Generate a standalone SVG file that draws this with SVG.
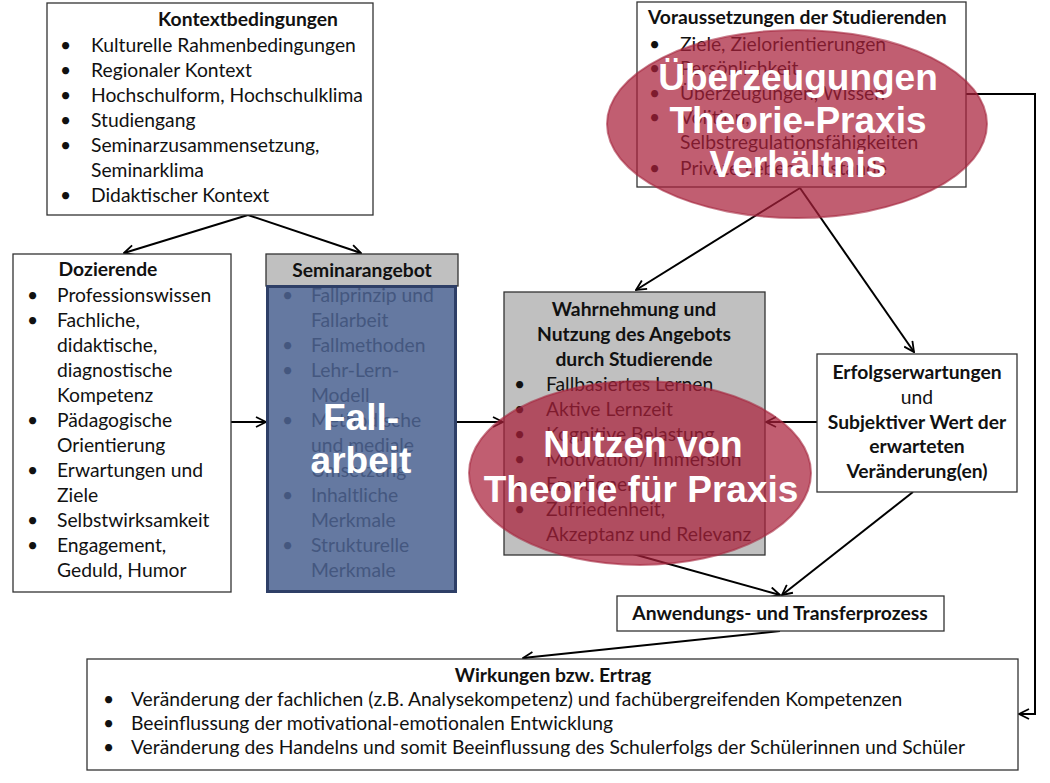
<svg xmlns="http://www.w3.org/2000/svg" width="1050" height="783" viewBox="0 0 1050 783">
<style>
.box{fill:#fff;stroke:#333;stroke-width:1.3}
.gray{fill:#c0c0c0;stroke:#333;stroke-width:1.3}
.t{font-family:Lato,"Liberation Sans",sans-serif;font-size:19.3px;fill:#111}
.b{font-weight:bold}
.c{text-anchor:middle}
.sem{fill:#44577f}
.big{font-family:"Liberation Sans",Arial,sans-serif;font-weight:bold;font-size:37px;fill:#fff;text-anchor:middle}
.ell{fill:#a9203a;fill-opacity:0.72;stroke:#a52840;stroke-width:2;stroke-opacity:0.6}
.ln{fill:none;stroke:#000;stroke-width:2}
</style>
<defs>
<marker id="ah" viewBox="0 0 12 12" refX="11" refY="6" markerWidth="12" markerHeight="12" markerUnits="userSpaceOnUse" orient="auto">
<path d="M1,1 L11,6 L1,11" fill="none" stroke="#000" stroke-width="1.8"/>
</marker>
</defs>

<g id="connectors">
<path class="ln" d="M248,215 L124,253" marker-end="url(#ah)"/>
<path class="ln" d="M248,215 L361,253" marker-end="url(#ah)"/>
<path class="ln" d="M231,422 L266,422" marker-end="url(#ah)"/>
<path class="ln" d="M456,422 L503,422" marker-end="url(#ah)"/>
<path class="ln" d="M817,422 L766,422" marker-end="url(#ah)"/>
<path class="ln" d="M800,188 L636,290" marker-end="url(#ah)"/>
<path class="ln" d="M800,188 L914,352" marker-end="url(#ah)"/>
<path class="ln" d="M966,94 L1035,94 L1035,714 L1019,714" marker-end="url(#ah)"/>
<path class="ln" d="M633,554 L780,595" marker-end="url(#ah)"/>
<path class="ln" d="M913,492 L782,595" marker-end="url(#ah)"/>
<path class="ln" d="M780,631 L523,658" marker-end="url(#ah)"/>
</g>

<g id="kontext">
<rect class="box" x="47" y="3" width="326" height="212"/>
<text class="t b c" x="248" y="26">Kontextbedingungen</text>
<g class="t">
<text x="60" y="52">•</text><text x="91" y="52">Kulturelle Rahmenbedingungen</text>
<text x="60" y="77">•</text><text x="91" y="77">Regionaler Kontext</text>
<text x="60" y="102">•</text><text x="91" y="102">Hochschulform, Hochschulklima</text>
<text x="60" y="127">•</text><text x="91" y="127">Studiengang</text>
<text x="60" y="152">•</text><text x="91" y="152">Seminarzusammensetzung,</text>
<text x="91" y="177">Seminarklima</text>
<text x="60" y="202">•</text><text x="91" y="202">Didaktischer  Kontext</text>
</g>
</g>

<g id="dozierende">
<rect class="box" x="13" y="254" width="218" height="338"/>
<text class="t b c" x="108" y="276">Dozierende</text>
<g class="t">
<text x="27" y="302">•</text><text x="57" y="302">Professionswissen</text>
<text x="27" y="327">•</text><text x="57" y="327">Fachliche,</text>
<text x="57" y="352">didaktische,</text>
<text x="57" y="377">diagnostische</text>
<text x="57" y="402">Kompetenz</text>
<text x="27" y="427">•</text><text x="57" y="427">Pädagogische</text>
<text x="57" y="452">Orientierung</text>
<text x="27" y="477">•</text><text x="57" y="477">Erwartungen und</text>
<text x="57" y="502">Ziele</text>
<text x="27" y="527">•</text><text x="57" y="527">Selbstwirksamkeit</text>
<text x="27" y="552">•</text><text x="57" y="552">Engagement,</text>
<text x="57" y="577">Geduld, Humor</text>
</g>
</g>

<g id="seminarangebot">
<rect class="gray" x="266" y="254" width="192" height="32"/>
<text class="t b c" x="362" y="277">Seminarangebot</text>
<rect x="267.5" y="286.5" width="188" height="305" fill="#6579a1" stroke="#2e3f67" stroke-width="3"/>
<g class="t sem">
<text x="282" y="302">•</text><text x="311" y="302">Fallprinzip und</text>
<text x="311" y="327">Fallarbeit</text>
<text x="282" y="352">•</text><text x="311" y="352">Fallmethoden</text>
<text x="282" y="377">•</text><text x="311" y="377">Lehr-Lern-</text>
<text x="311" y="402">Modell</text>
<text x="282" y="427">•</text><text x="311" y="427">Methodische</text>
<text x="311" y="452">und mediale</text>
<text x="311" y="477">Umsetzung</text>
<text x="282" y="502">•</text><text x="311" y="502">Inhaltliche</text>
<text x="311" y="527">Merkmale</text>
<text x="282" y="552">•</text><text x="311" y="552">Strukturelle</text>
<text x="311" y="577">Merkmale</text>
</g>
<text class="big" x="361" y="430">Fall-</text>
<text class="big" x="361" y="473">arbeit</text>
</g>

<g id="voraussetzungen">
<rect class="box" x="637" y="2" width="329" height="185"/>
<text class="t b" x="648" y="24">Voraussetzungen der Studierenden</text>
<g class="t">
<text x="649" y="51">•</text><text x="680" y="51">Ziele, Zielorientierungen</text>
<text x="649" y="75">•</text><text x="680" y="75">Persönlichkeit</text>
<text x="649" y="100">•</text><text x="680" y="100">Überzeugungen, Wissen</text>
<text x="649" y="124">•</text><text x="680" y="124">Volition,</text>
<text x="680" y="149">Selbstregulationsfähigkeiten</text>
<text x="649" y="175">•</text><text x="680" y="175">Private Lebensumstände</text>
</g>
</g>

<g id="wahrnehmung">
<rect class="gray" x="504" y="292" width="261" height="263"/>
<g class="t b c">
<text x="634" y="316">Wahrnehmung und</text>
<text x="634" y="341">Nutzung des Angebots</text>
<text x="634" y="366">durch Studierende</text>
</g>
<g class="t">
<text x="514" y="391">•</text><text x="546" y="391">Fallbasiertes Lernen</text>
<text x="514" y="416">•</text><text x="546" y="416">Aktive Lernzeit</text>
<text x="514" y="441">•</text><text x="546" y="441">Kognitive Belastung</text>
<text x="514" y="466">•</text><text x="546" y="466">Motivation/ Immersion</text>
<text x="514" y="491">•</text><text x="546" y="491">Emotionen</text>
<text x="514" y="516">•</text><text x="546" y="516">Zufriedenheit,</text>
<text x="546" y="541">Akzeptanz und Relevanz</text>
</g>
</g>

<g id="erfolgserwartungen">
<rect class="box" x="817" y="354" width="200" height="138"/>
<g class="t c">
<text class="b" x="917" y="379">Erfolgserwartungen</text>
<text x="917" y="404">und</text>
<text class="b" x="917" y="429">Subjektiver Wert der</text>
<text class="b" x="917" y="453">erwarteten</text>
<text class="b" x="917" y="478">Veränderung(en)</text>
</g>
</g>

<g id="anwendung">
<rect class="box" x="617" y="596" width="327" height="35"/>
<text class="t b c" x="780" y="620">Anwendungs- und Transferprozess</text>
</g>

<g id="wirkungen">
<rect class="box" x="87" y="659" width="931" height="111"/>
<text class="t b c" x="553" y="682">Wirkungen bzw. Ertrag</text>
<g class="t">
<text x="103" y="706">•</text><text x="131" y="706">Veränderung der fachlichen (z.B. Analysekompetenz) und fachübergreifenden Kompetenzen</text>
<text x="103" y="730">•</text><text x="131" y="730">Beeinflussung der motivational-emotionalen Entwicklung</text>
<text x="103" y="754">•</text><text x="131" y="754">Veränderung des Handelns und somit Beeinflussung des Schulerfolgs der Schülerinnen und Schüler</text>
</g>
</g>

<g id="ueberzeugungen">
<ellipse class="ell" cx="797" cy="124" rx="190" ry="94"/>
<text class="big" x="798" y="90">Überzeugungen</text>
<text class="big" x="798" y="133">Theorie-Praxis</text>
<text class="big" x="798" y="177">Verhältnis</text>
</g>

<g id="nutzen">
<ellipse class="ell" cx="640" cy="473" rx="171" ry="92"/>
<text class="big" x="643" y="457">Nutzen von</text>
<text class="big" x="641" y="502">Theorie für Praxis</text>
</g>
</svg>
